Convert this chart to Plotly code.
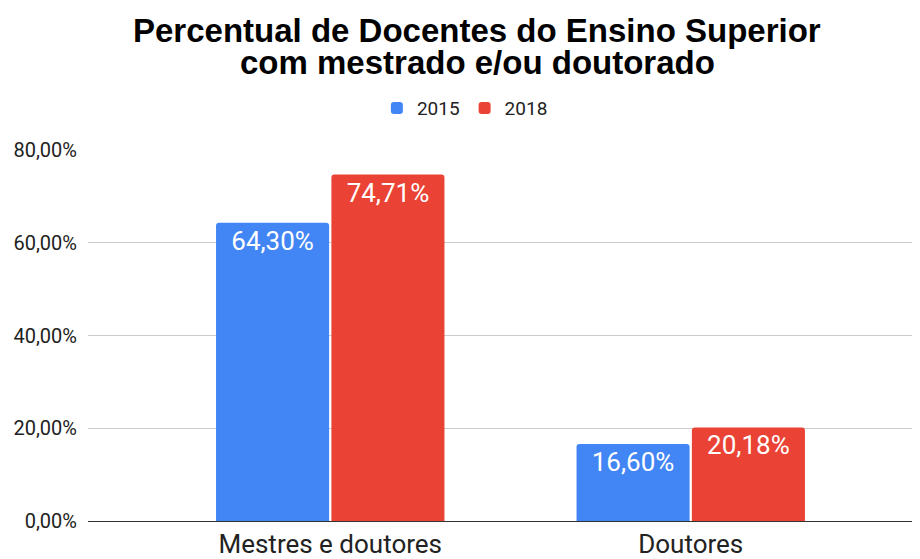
import plotly.graph_objects as go

categories = ["Mestres e doutores", "Doutores"]
values_2015 = [64.30, 16.60]
values_2018 = [74.71, 20.18]
y_ticks = [0, 20, 40, 60, 80]
title_lines = ["Percentual de Docentes do Ensino Superior",
               "com mestrado e/ou doutorado"]

COLORS = {"2015": "#4285F4", "2018": "#EA4335"}


def pct_label(v):
    return f"{v:.2f}%".replace(".", ",")


fig = go.Figure()
for name, vals in [("2015", values_2015), ("2018", values_2018)]:
    fig.add_trace(go.Bar(
        x=categories, y=vals, name=name,
        marker=dict(color=COLORS[name], line=dict(width=0), cornerradius=3),
        text=[pct_label(v) for v in vals],
        textposition="inside", insidetextanchor="end",
        textfont=dict(color="white", size=26, family="Roboto"),
        textangle=0,
    ))

# title as two annotations so the line spacing stays tight
for line, ypos in zip(title_lines, [1.3217, 1.2359]):
    fig.add_annotation(
        text=f"<b>{line}</b>", xref="paper", yref="paper",
        x=0.468, y=ypos, xanchor="center", yanchor="middle", showarrow=False,
        font=dict(family="Liberation Sans, Arial", size=33, color="#000"),
    )

# page body has an 8px margin, so the figure is sized 8px smaller
fig.update_layout(
    width=912, height=551,
    margin=dict(l=80, r=0, t=142, b=36),
    paper_bgcolor="white", plot_bgcolor="white",
    font=dict(family="Roboto", color="#222"),
    legend=dict(
        orientation="h", x=0.453, xanchor="center", y=1.1126, yanchor="middle",
        font=dict(size=19, color="#222"),
    ),
    barmode="group", bargap=0.36, bargroupgap=0.02,
    showlegend=True,
)
fig.update_xaxes(
    range=[-0.672, 1.636],
    showline=True, linecolor="#333", linewidth=1,
    tickfont=dict(size=26, color="#222"),
    ticks="",
)
fig.update_yaxes(
    range=[0, 80], tickvals=y_ticks,
    ticktext=[pct_label(v) for v in y_ticks],
    showgrid=True, gridcolor="#cccccc", zeroline=False,
    tickfont=dict(size=20, color="#222"),
    ticklabelstandoff=10,
)

fig.write_html("out.html")
